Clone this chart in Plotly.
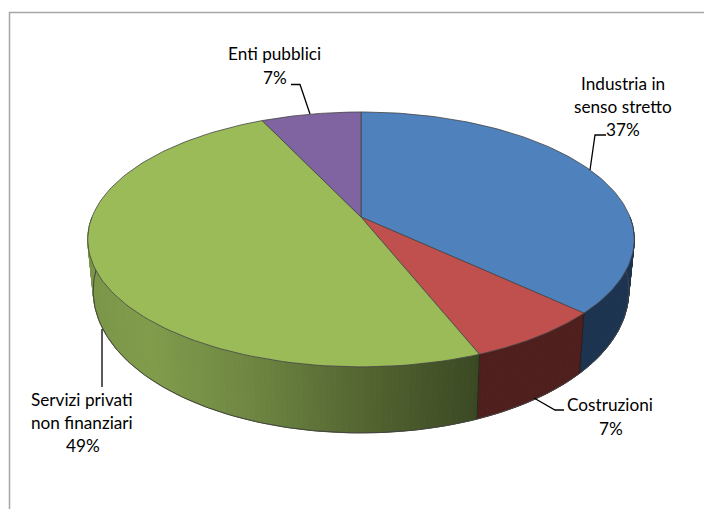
import numpy as np
import plotly.graph_objects as go

# --- data ---
categories = ["Industria in senso stretto", "Costruzioni", "Servizi privati non finanziari", "Enti pubblici"]
values = [37, 7, 49, 7]
label_lines = [["Industria in", "senso stretto"], ["Costruzioni"], ["Servizi privati", "non finanziari"], ["Enti pubblici"]]

# --- styling and layout ---
top_colors = ["#4f81bd", "#c0504d", "#9bbb59", "#8064a2"]
wall_stops = [
    [(0, "#1d3451"), (704, "#1d3451")],
    [(0, "#4e1f1d"), (704, "#4e1f1d")],
    [(90, "#7b9648"), (150, "#809c4b"), (250, "#6e8642"), (352, "#566833"), (478, "#3b4922")],
    [(0, "#40325a"), (704, "#40325a")],
]
label_pos = [[(623, 83), (623, 106), (623, 129)], [(610, 404), (611, 428)],
             [(82, 399), (82, 422), (83, 445)], [(274, 53), (275, 77)]]
leaders = [[(606, 135), (595, 135), (590, 170)], [(534, 398), (555, 410), (564, 410)],
           [(102, 329), (102, 387)], [(291, 84.5), (300, 84.5), (310, 114)]]
CX, CY, A, B, K = 361, 217, 269, 123.5, 0.176
SHRINK = 0.98
EDGE = "#444444"


def top_xy(t):
    c = -np.cos(t)
    s = 1 / (1 - K * c)
    return CX + A * np.sin(t) * s, CY + B * c * s


def bot_xy(t):
    x, y = top_xy(t)
    c = -np.cos(t)
    return CX + SHRINK * (x - CX), y + 48 + 18 * c


def hex2rgb(h):
    return np.array([int(h[i:i + 2], 16) for i in (1, 3, 5)], float)


def wall_color(stops, x):
    xs = [p[0] for p in stops]
    cols = np.array([hex2rgb(p[1]) for p in stops])
    r, g, b = (np.interp(x, xs, cols[:, i]) for i in range(3))
    return f"rgb({r:.0f},{g:.0f},{b:.0f})"


fig = go.Figure()
total = sum(values)
edges = np.cumsum([0] + values) / total * 2 * np.pi
VIS0, VIS1 = np.radians(90), np.radians(270)


def poly(x, y, fill, line=None, width=1):
    fig.add_trace(go.Scatter(x=x, y=y, mode="lines", fill="toself", fillcolor=fill,
                             line=dict(color=line or fill, width=width), hoverinfo="skip", showlegend=False))


def path(x, y, color, width):
    fig.add_trace(go.Scatter(x=x, y=y, mode="lines", line=dict(color=color, width=width),
                             hoverinfo="skip", showlegend=False))


# side walls, split into narrow strips so the shading runs across them
for i in range(len(values)):
    t0, t1 = max(edges[i], VIS0), min(edges[i + 1], VIS1)
    if t1 <= t0:
        continue
    n = max(2, int((t1 - t0) / np.radians(1)))
    ts = np.linspace(t0, t1, n + 1)
    for a, b in zip(ts[:-1], ts[1:]):
        xa, ya = top_xy(a); xb, yb = top_xy(b)
        xc, yc = bot_xy(b); xd, yd = bot_xy(a)
        col = wall_color(wall_stops[i], (xa + xb) / 2)
        poly([xa, xb, xc, xd, xa], [ya, yb, yc, yd, ya], col)

# bottom outline and wall seams
tb = np.linspace(VIS0, VIS1, 200)
path(*bot_xy(tb), EDGE, 1)
for e in edges[1:3]:
    xa, ya = top_xy(e); xb, yb = bot_xy(e)
    path([xa, xb], [ya, yb], "#1e1e1e", 0.8)

# top faces
for i in range(len(values)):
    ts = np.linspace(edges[i], edges[i + 1], 120)
    x, y = top_xy(ts)
    poly(np.r_[CX, x, CX], np.r_[CY, y, CY], top_colors[i], EDGE, 0.8)

# frame
path([9.5, 9.5, 704], [509, 12.5, 12.5], "#a6a6a6", 1.5)

# leader lines
for seg in leaders:
    path([p[0] for p in seg], [p[1] for p in seg], "#000000", 1.3)

# labels
annotations = []
for lines, val, pos in zip(label_lines, values, label_pos):
    pct = f"{round(val / total * 100)}%"
    for txt, (px, py) in zip(lines + [pct], pos):
        annotations.append(dict(x=px, y=py, xref="x", yref="y", text=txt, showarrow=False,
                                font=dict(family="Lato", size=17.2, color="#000000"),
                                xanchor="center", yanchor="middle"))

fig.update_layout(width=704, height=509, margin=dict(l=0, r=0, t=0, b=0),
                  paper_bgcolor="white", plot_bgcolor="white", showlegend=False,
                  annotations=annotations, hovermode=False,
                  xaxis=dict(range=[0, 704], visible=False, fixedrange=True),
                  yaxis=dict(range=[509, 0], visible=False, fixedrange=True))
fig.write_html("out.html", config=dict(displayModeBar=False),
               post_script="document.body.style.margin='0';document.documentElement.style.overflow='hidden';")
